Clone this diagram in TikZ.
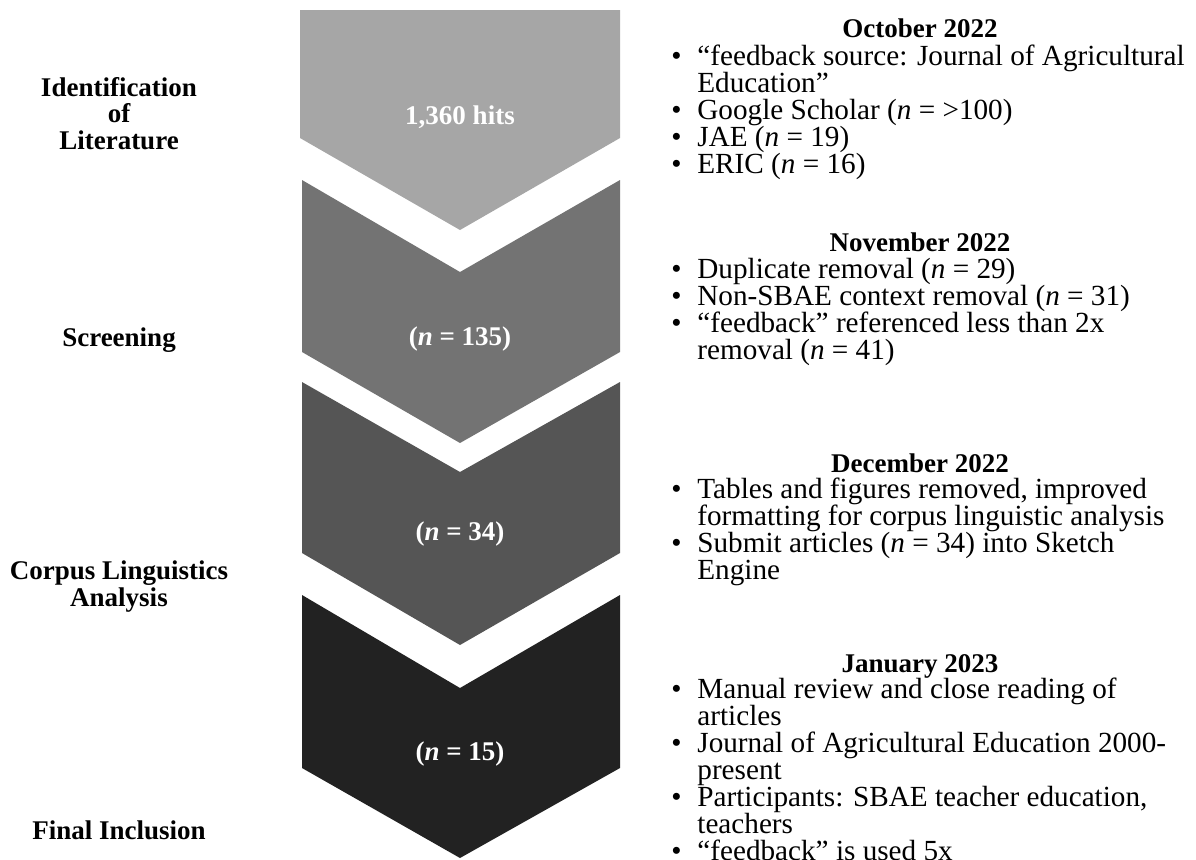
\documentclass[tikz,border=0pt]{standalone}
\usepackage{fontspec}
\setmainfont{Liberation Serif}

\definecolor{chevA}{HTML}{A6A6A6}
\definecolor{chevB}{HTML}{737373}
\definecolor{chevC}{HTML}{555555}
\definecolor{chevD}{HTML}{222222}

\newcommand{\itm}{\makebox[13pt][l]{\textbullet}}
\newcommand{\cnt}{\hspace*{13pt}}

\begin{document}
\begin{tikzpicture}[x=0.5pt, y=-0.5pt,
    stage/.style={font=\fontsize{13.5}{13.25}\selectfont\bfseries, align=center, inner sep=0pt, anchor=base},
    count/.style={font=\fontsize{13.5}{13.5}\selectfont\bfseries, text=white, inner sep=0pt, anchor=base},
    month/.style={font=\fontsize{13.5}{13.5}\selectfont\bfseries, inner sep=0pt, anchor=base},
    items/.style={font=\fontsize{14.6}{13.5}\selectfont, align=left, inner sep=0pt, anchor=base west}]
  \useasboundingbox (0,0) rectangle (1196,859);

  \fill[chevA] (300,10) -- (620,10) -- (620,138) -- (460,230) -- (300,138) -- cycle;
  \fill[chevB] (302,180) -- (460,272) -- (620,180) -- (620,352) -- (460,443) -- (302,352) -- cycle;
  \fill[chevC] (302,382) -- (460,472) -- (620,382) -- (620,553) -- (460,645) -- (302,553) -- cycle;
  \fill[chevD] (302,595) -- (460,688) -- (620,595) -- (620,768) -- (460,858) -- (302,768) -- cycle;

  \node[stage](s1) at (119,149) {Identification\\of\\Literature};
  \node[stage](s2) at (119,346) {Screening};
  \node[stage](s3) at (119,606) {Corpus Linguistics\\Analysis};
  \node[stage](s4) at (119,839) {Final Inclusion};

  \node[count](c1) at (460,124) {1,360 hits};
  \node[count](c2) at (460,345) {(\textit{n} = 135)};
  \node[count](c3) at (460,540) {(\textit{n} = 34)};
  \node[count](c4) at (460,760) {(\textit{n} = 15)};

  \node[month](m1) at (920,37)  {October 2022};
  \node[month](m2) at (920,251) {November 2022};
  \node[month](m3) at (920,472) {December 2022};
  \node[month](m4) at (920,672) {January 2023};

  \node[items](i1) at (671,173) {\itm “feedback source: Journal of Agricultural\\
    \cnt Education”\\
    \itm Google Scholar (\textit{n} = >100)\\
    \itm JAE (\textit{n} = 19)\\
    \itm ERIC (\textit{n} = 16)};
  \node[items](i2) at (671,359) {\itm Duplicate removal (\textit{n} = 29)\\
    \itm Non-SBAE context removal (\textit{n} = 31)\\
    \itm “feedback” referenced less than 2x\\
    \cnt removal (\textit{n} = 41)};
  \node[items](i3) at (671,579) {\itm Tables and figures removed, improved\\
    \cnt formatting for corpus linguistic analysis\\
    \itm Submit articles (\textit{n} = 34) into Sketch\\
    \cnt Engine};
  \node[items](i4) at (671,860) {\itm Manual review and close reading of\\
    \cnt articles\\
    \itm Journal of Agricultural Education 2000-\\
    \cnt present\\
    \itm Participants: SBAE teacher education,\\
    \cnt teachers\\
    \itm “feedback” is used 5x};
\end{tikzpicture}
\end{document}
